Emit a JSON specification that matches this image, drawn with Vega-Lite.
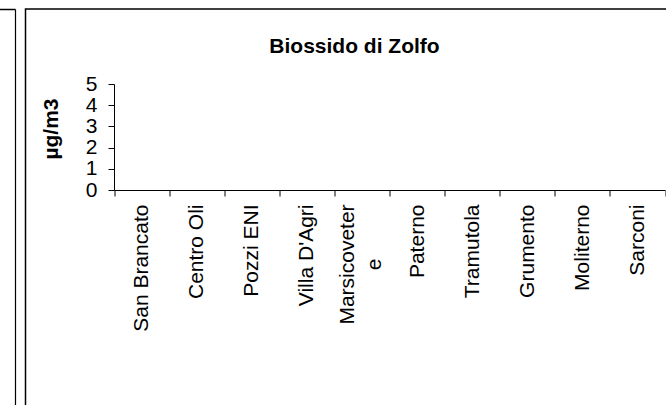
{
  "$schema": "https://vega.github.io/schema/vega-lite/v6.json",
  "autosize": "none",
  "padding": {"left": 25.5, "top": 9, "right": 0, "bottom": 0},
  "width": 642,
  "height": 400,
  "background": "white",
  "title": {
    "text": "Biossido di Zolfo",
    "font": "Liberation Sans",
    "fontSize": 21,
    "fontWeight": "bold",
    "color": "black",
    "baseline": "alphabetic",
    "anchor": "middle",
    "offset": -65,
    "dx": 8
  },
  "data": {
    "values": [
      {"stazione": "San Brancato", "valore": 0},
      {"stazione": "Centro Oli", "valore": 0},
      {"stazione": "Pozzi ENI", "valore": 0},
      {"stazione": "Villa D'Agri", "valore": 0},
      {"stazione": "Marsicovetere", "valore": 0},
      {"stazione": "Paterno", "valore": 0},
      {"stazione": "Tramutola", "valore": 0},
      {"stazione": "Grumento", "valore": 0},
      {"stazione": "Moliterno", "valore": 0},
      {"stazione": "Sarconi", "valore": 0}
    ]
  },
  "layer": [
    {
      "mark": {"type": "bar", "color": "#9999FF"},
      "encoding": {
        "x": {
          "field": "stazione",
          "type": "nominal",
          "sort": null,
          "scale": {"range": [88.5, 639.5], "paddingInner": 0, "paddingOuter": 0},
          "axis": {
            "title": null,
            "offset": -219,
            "tickBand": "extent",
            "domainColor": "black",
            "domainWidth": 1,
            "tickColor": "black",
            "tickWidth": 1,
            "tickSize": 6,
            "labelAngle": -90,
            "labelAlign": {"condition": {"test": "datum.label == 'Marsicovetere'", "value": "center"}, "value": "right"},
            "labelPadding": {"condition": {"test": "datum.label == 'Marsicovetere'", "value": 68}, "value": 8},
            "labelOffset": {"condition": {"test": "datum.label == 'Marsicovetere'", "value": -14}, "value": 0},
            "labelBaseline": "middle",
            "labelFont": "Liberation Sans",
            "labelFontSize": 21,
            "labelColor": "black",
            "labelLineHeight": 27,
            "labelOverlap": false,
            "labelLimit": 300,
            "labelExpr": "datum.label == 'Marsicovetere' ? ['Marsicoveter', 'e'] : datum.label"
          }
        },
        "y": {
          "field": "valore",
          "type": "quantitative",
          "scale": {"domain": [0, 5], "range": [181, 75], "nice": false, "zero": true},
          "axis": {
            "title": "µg/m3",
            "titleFont": "Liberation Sans",
            "titleFontSize": 21,
            "titleFontWeight": "bold",
            "titleColor": "black",
            "titlePadding": 24,
            "titleY": 119.5,
            "offset": -88.5,
            "values": [0, 1, 2, 3, 4, 5],
            "grid": false,
            "domainColor": "black",
            "domainWidth": 1,
            "tickColor": "black",
            "tickWidth": 1,
            "tickSize": 6,
            "labelPadding": 11,
            "labelFont": "Liberation Sans",
            "labelFontSize": 21,
            "labelColor": "black"
          }
        }
      }
    },
    {
      "mark": {"type": "point", "opacity": 0},
      "encoding": {
        "x": {
          "field": "valore",
          "type": "quantitative",
          "scale": {"domain": [0, 1], "range": [-30, -10.5], "nice": false, "zero": false},
          "axis": {"orient": "top", "offset": 0, "title": null, "labels": false, "ticks": false, "grid": false, "domainColor": "black", "domainWidth": 1.5}
        },
        "y": {
          "field": "valore",
          "type": "quantitative",
          "scale": {"domain": [0, 1], "range": [400, 0], "nice": false, "zero": false},
          "axis": {"orient": "left", "offset": 10.5, "title": null, "labels": false, "ticks": false, "grid": false, "domainColor": "black", "domainWidth": 1.2}
        }
      }
    }
  ],
  "resolve": {"scale": {"x": "independent", "y": "independent"}, "axis": {"x": "independent", "y": "independent"}},
  "config": {"view": {"stroke": "black", "strokeWidth": 1.5}}
}
